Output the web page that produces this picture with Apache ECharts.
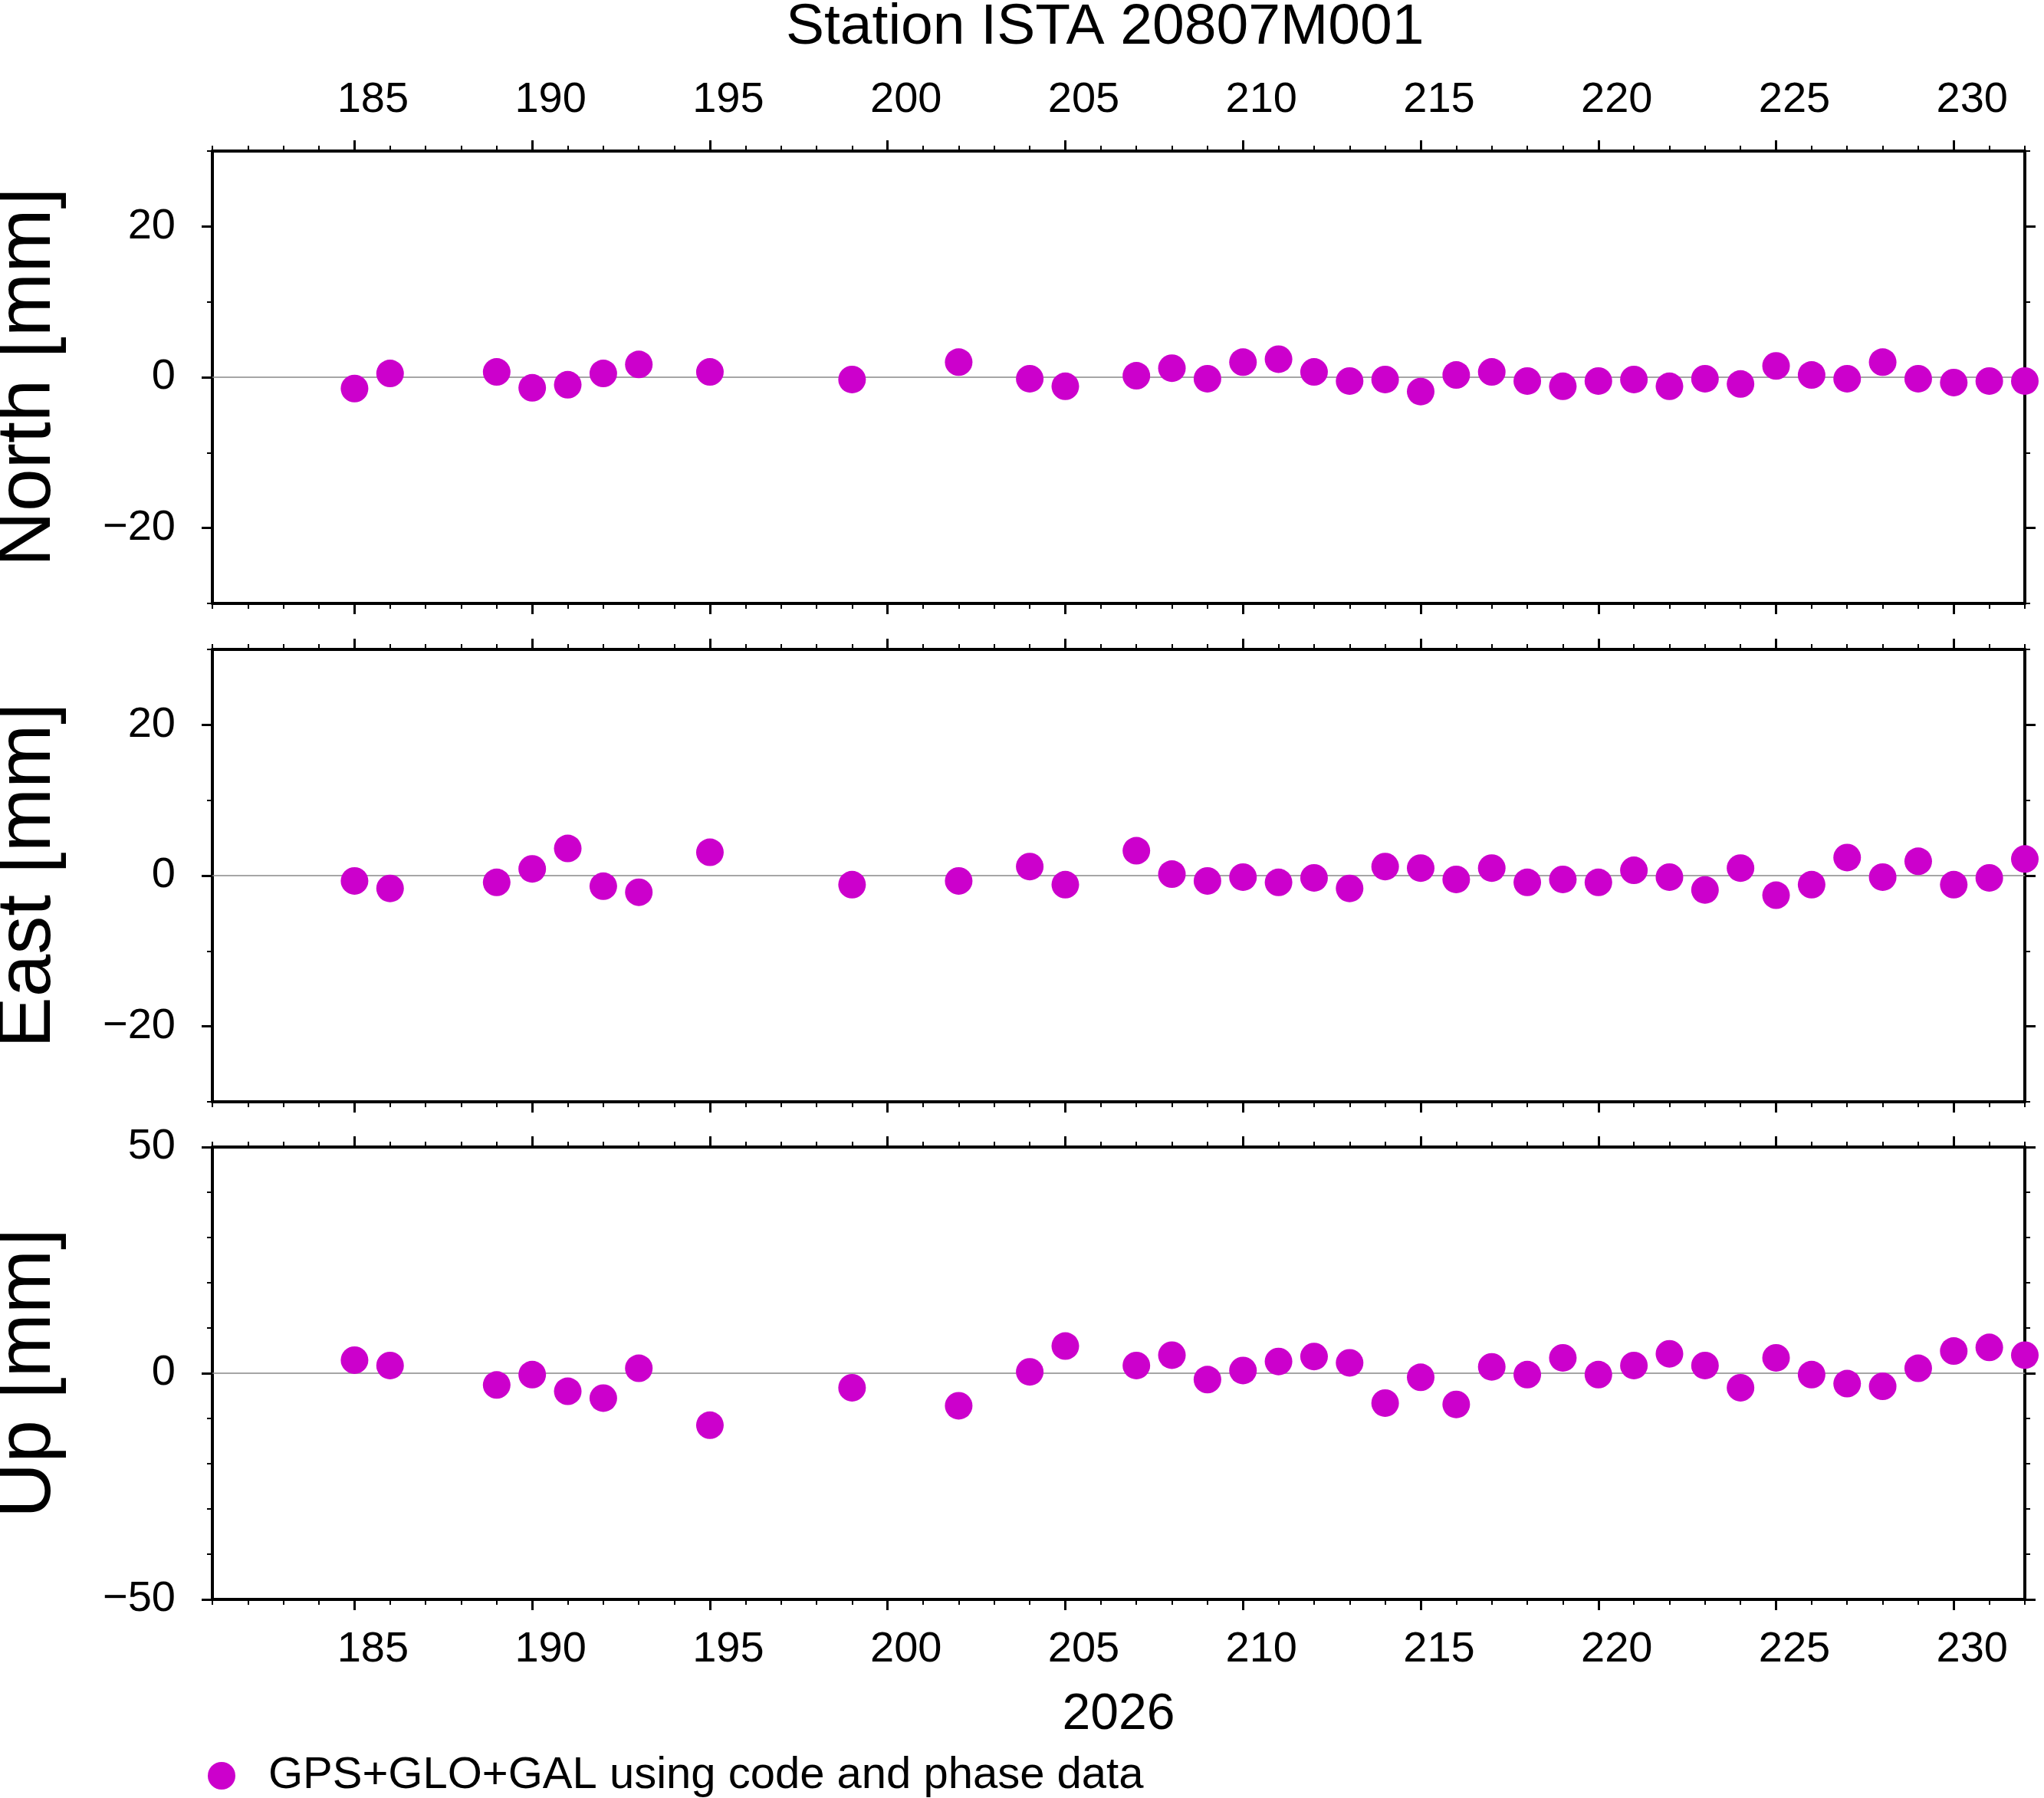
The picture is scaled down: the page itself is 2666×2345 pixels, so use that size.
<!DOCTYPE html>
<html><head><meta charset="utf-8">
<script src="https://cdn.jsdelivr.net/npm/echarts@6/dist/echarts.min.js"></script>
<style>html,body{margin:0;padding:0;background:#fff}#c{width:2666px;height:2345px}</style>
</head><body><div id="c"></div>
<script>
const days = [185,186,189,190,191,192,193,195,199,202,204,205,207,208,209,210,211,212,213,214,215,216,217,218,219,220,221,222,223,224,225,226,227,228,229,230,231,232];
const north = [-1.5,0.5,0.7,-1.4,-1,0.5,1.7,0.7,-0.3,2,-0.2,-1.2,0.2,1.2,-0.2,2,2.4,0.7,-0.5,-0.3,-1.9,0.3,0.7,-0.5,-1.2,-0.5,-0.3,-1.2,-0.2,-0.9,1.5,0.3,-0.2,2,-0.2,-0.7,-0.5,-0.5];
const east = [-0.7,-1.7,-0.9,0.9,3.6,-1.4,-2.2,3.1,-1.2,-0.7,1.2,-1.2,3.3,0.2,-0.7,-0.2,-0.9,-0.3,-1.7,1.2,1,-0.5,1,-0.9,-0.5,-0.9,0.7,-0.2,-1.9,1,-2.6,-1.2,2.4,-0.2,1.9,-1.2,-0.3,2.2];
const up = [2.9,1.7,-2.6,-0.3,-4,-5.5,1.1,-11.5,-3.2,-7.2,0.3,6,1.7,4,-1.4,0.6,2.6,3.7,2.3,-6.6,-0.9,-6.9,1.4,-0.3,3.4,-0.3,1.7,4.3,1.7,-3.2,3.4,-0.3,-2.3,-2.9,1.1,4.9,5.7,4];
const xTicks = [185,190,195,200,205,210,215,220,225,230];
const panelNames = ['North [mm]','East [mm]','Up [mm]'];
const legendName = 'GPS+GLO+GAL using code and phase data';
const FONT = 'Liberation Sans';
const tops = [197,847,1496], H = 590;
const grids = tops.map(t => ({left:277, right:25, top:t, height:H, containLabel:false, outerBoundsMode:'none'}));
const xAxis = [], yAxis = [], series = [];
const line = {show:true, onZero:false, lineStyle:{color:'#000', width:4}};
const fmt = v => String(v).replace('-', '\u2212');
const panels = [
  {data:north, min:-30, max:30, major:[-20,0,20]},
  {data:east, min:-30, max:30, major:[-20,0,20]},
  {data:up, min:-50, max:50, major:[-50,0,50]}
];
panels.forEach((p, g) => {
  ['bottom','top'].forEach(pos => {
    const showLab = (pos==='bottom' && g===2) || (pos==='top' && g===0);
    xAxis.push({type:'value', gridIndex:g, position:pos, min:181, max:232,
      axisLine:line, splitLine:{show:false},
      axisTick:{show:true, customValues:xTicks, length:14, lineStyle:{color:'#000', width:3}},
      axisLabel:{show:showLab, customValues:xTicks, fontFamily:FONT, fontSize:56, color:'#000', margin:38, padding:[0,0,0,48]},
      name: (pos==='bottom' && g===2) ? '2026' : '', nameLocation:'middle', nameGap:118,
      nameTextStyle:{fontFamily:FONT, fontSize:66, color:'#000'}});
    xAxis.push({type:'value', gridIndex:g, position:pos, min:181, max:232, interval:1,
      axisLine:{show:false, onZero:false}, splitLine:{show:false}, axisLabel:{show:false},
      axisTick:{show:true, length:7, lineStyle:{color:'#000', width:2}}});
  });
  ['left','right'].forEach(pos => {
    yAxis.push({type:'value', gridIndex:g, position:pos, min:p.min, max:p.max,
      axisLine:line, splitLine:{show:false},
      axisTick:{show:true, customValues:p.major, length:14, lineStyle:{color:'#000', width:3}},
      axisLabel:{show:pos==='left', customValues:p.major, formatter:fmt, fontFamily:FONT, fontSize:56, color:'#000', margin:48},
      name: pos==='left' ? panelNames[g] : '', nameLocation:'middle', nameGap:190, nameRotate:90,
      nameTextStyle:{fontFamily:FONT, fontSize:100, color:'#000'}});
    yAxis.push({type:'value', gridIndex:g, position:pos, min:p.min, max:p.max, interval:10,
      axisLine:{show:false, onZero:false}, splitLine:{show:false}, axisLabel:{show:false},
      axisTick:{show:true, length:7, lineStyle:{color:'#000', width:2}}});
  });
  series.push({type:'scatter', name:legendName, xAxisIndex:g*4, yAxisIndex:g*4,
    data: days.map((d,i)=>[d,p.data[i]]), symbolSize:36, itemStyle:{color:'#cc00cc', opacity:1},
    markLine:{silent:true, symbol:'none', label:{show:false}, lineStyle:{color:'#888', width:1.5, type:'solid'}, data:[{yAxis:0}]},
    clip:false, z:5});
});
const chart = echarts.init(document.getElementById('c'));
chart.setOption({
  animation:false, backgroundColor:'#fff',
  title:{text:'Station ISTA 20807M001', left:1020, top:-6, textStyle:{fontFamily:FONT, fontSize:75, fontWeight:'normal', color:'#000'}},
  legend:{left:266, top:2282, itemWidth:36, itemHeight:36, itemGap:20, icon:'circle',
    textStyle:{fontFamily:FONT, fontSize:58, color:'#000', padding:[0,0,0,38]}, data:[legendName]},
  grid:grids, xAxis, yAxis, series
});
</script></body></html>
